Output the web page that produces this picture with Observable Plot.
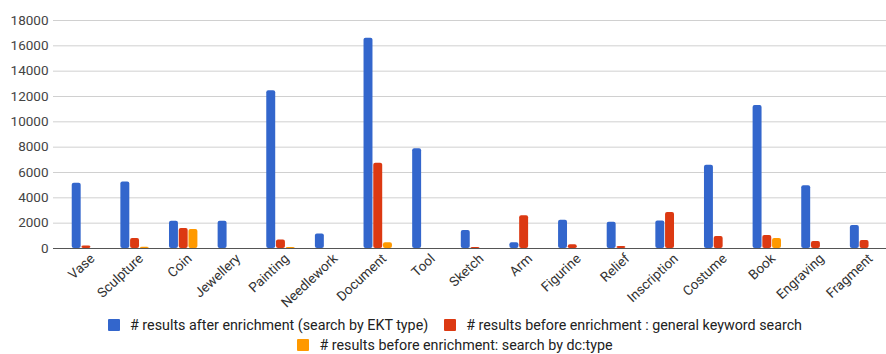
<!DOCTYPE html>
<html>
<head>
<meta charset="utf-8">
<script src="https://cdn.jsdelivr.net/npm/d3@7"></script>
<script src="https://cdn.jsdelivr.net/npm/@observablehq/plot@0.6"></script>
<style>
  html, body { margin: 0; padding: 0; background: #fff; }
  #chart { width: 886px; font-family: Roboto, "Noto Sans", sans-serif; }
  .legend {
    display: flex; flex-wrap: wrap; justify-content: center;
    padding-left: 24px; box-sizing: border-box; width: 886px;
    font: 14.3px Roboto, sans-serif; color: #222; line-height: 20px; padding-top: 3px;
  }
  .legend .item { display: flex; align-items: center; margin: 0 8px; }
  .legend .swatch { width: 12px; height: 12px; margin-right: 10px; border-radius: 1px; }
</style>
</head>
<body>
<div id="chart"></div>
<script>
// Object types searched
const categories = ["Vase", "Sculpture", "Coin", "Jewellery", "Painting", "Needlework", "Document", "Tool",
  "Sketch", "Arm", "Figurine", "Relief", "Inscription", "Costume", "Book", "Engraving", "Fragment"];

const seriesNames = [
  "# results after enrichment (search by EKT type)",
  "# results before enrichment : general keyword search",
  "# results before enrichment: search by dc:type"
];

// Result counts per type, in category order
const afterEKT      = [5150, 5250, 2150, 2150, 12450, 1150, 16600, 7870, 1420, 450, 2240, 2080, 2180, 6580, 11290, 4950, 1820];
const beforeKeyword = [200, 780, 1580, 0, 680, 0, 6730, 0, 80, 2580, 290, 150, 2840, 950, 1030, 550, 630];
const beforeDcType  = [0, 100, 1500, 0, 80, 0, 450, 0, 0, 0, 0, 0, 0, 0, 790, 0, 0];

const yTicks = [0, 2000, 4000, 6000, 8000, 10000, 12000, 14000, 16000, 18000];
const colors = ["#3366cc", "#dc3912", "#ff9900"];

const seriesValues = [afterEKT, beforeKeyword, beforeDcType];

// Each category gets a slot per series plus an empty slot on either side of the group
const slots = categories.flatMap(c => [`${c}|pre`, ...seriesNames.map((_, i) => `${c}|${i}`), `${c}|post`]);
const centerSlots = categories.map(c => `${c}|1`);

const data = categories.flatMap((c, ci) =>
  seriesValues.map((vals, si) => ({category: c, series: seriesNames[si], slot: `${c}|${si}`, value: vals[ci]}))
);

const plot = Plot.plot({
  width: 886,
  height: 312,
  marginLeft: 53,
  marginRight: 0,
  marginTop: 20,
  marginBottom: 64,
  style: {fontFamily: "Roboto, sans-serif", fontSize: "13.5px", color: "#444", background: "#fff"},
  x: {domain: slots, range: [62, 888], paddingInner: 0.08, paddingOuter: 0, axis: null},
  y: {domain: [0, 18000], axis: null},
  color: {domain: seriesNames, range: colors},
  marks: [
    Plot.ruleY(yTicks.filter(d => d > 0), {stroke: "#d0d0d0", strokeWidth: 1}),
    Plot.axisY({ticks: yTicks, tickFormat: d => String(d), tickSize: 0, tickPadding: 5, label: null, fill: "#444"}),
    Plot.barY(data, {x: "slot", y: "value", fill: "series", rx: 2}),
    Plot.ruleY([0], {stroke: "#555", strokeWidth: 1}),
    Plot.axisX({ticks: centerSlots, tickFormat: s => s.split("|")[0], tickRotate: -43,
      tickSize: 0, tickPadding: 8, dx: 6, label: null, fill: "#333"})
  ]
});

document.getElementById("chart").appendChild(plot);

// Legend below the chart
const legend = document.createElement("div");
legend.className = "legend";
seriesNames.forEach((name, i) => {
  const item = document.createElement("div");
  item.className = "item";
  const sw = document.createElement("span");
  sw.className = "swatch";
  sw.style.background = colors[i];
  const label = document.createElement("span");
  label.textContent = name;
  item.appendChild(sw);
  item.appendChild(label);
  legend.appendChild(item);
});
document.getElementById("chart").appendChild(legend);
</script>
</body>
</html>
